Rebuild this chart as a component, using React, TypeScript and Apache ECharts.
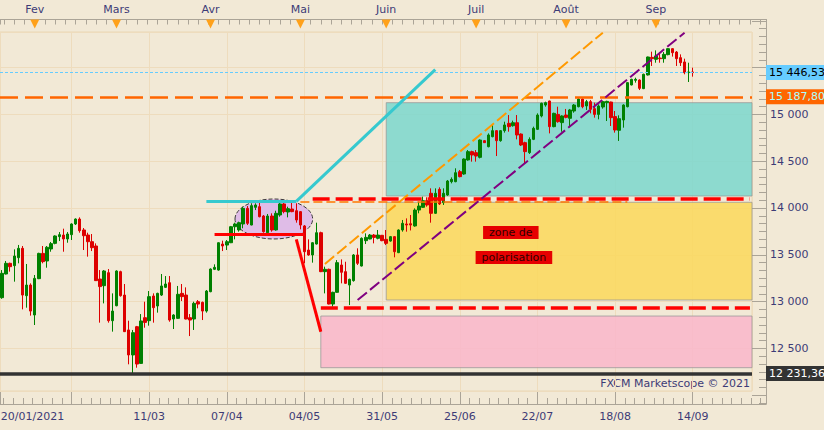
import React, { useEffect, useRef } from 'react';
import * as echarts from 'echarts';

// ---------- categories (trading days 2021) ----------
const dates = [
  '20/01','21/01','22/01','25/01','26/01','27/01','28/01','29/01',
  '01/02','02/02','03/02','04/02','05/02','08/02','09/02','10/02','11/02','12/02',
  '15/02','16/02','17/02','18/02','19/02','22/02','23/02','24/02','25/02','26/02',
  '01/03','02/03','03/03','04/03','05/03','08/03','09/03','10/03','11/03','12/03',
  '15/03','16/03','17/03','18/03','19/03','22/03','23/03','24/03','25/03','26/03','29/03','30/03','31/03',
  '01/04','02/04','05/04','06/04','07/04','08/04','09/04','12/04','13/04','14/04','15/04','16/04',
  '19/04','20/04','21/04','22/04','23/04','26/04','27/04','28/04','29/04','30/04',
  '03/05','04/05','05/05','06/05','07/05','10/05','11/05','12/05','13/05','14/05',
  '17/05','18/05','19/05','20/05','21/05','24/05','25/05','26/05','27/05','28/05','31/05',
  '01/06','02/06','03/06','04/06','07/06','08/06','09/06','10/06','11/06','14/06','15/06','16/06','17/06','18/06',
  '21/06','22/06','23/06','24/06','25/06','28/06','29/06','30/06',
  '01/07','02/07','05/07','06/07','07/07','08/07','09/07','12/07','13/07','14/07','15/07','16/07',
  '19/07','20/07','21/07','22/07','23/07','26/07','27/07','28/07','29/07','30/07',
  '02/08','03/08','04/08','05/08','06/08','09/08','10/08','11/08','12/08','13/08',
  '16/08','17/08','18/08','19/08','20/08','23/08','24/08','25/08','26/08','27/08','30/08','31/08',
  '01/09','02/09','03/09','06/09','07/09','08/09','09/09','10/09','13/09','14/09','15/09','16/09','17/09',
  '20/09','21/09','22/09','23/09','24/09','27/09','28/09','29/09','30/09','01/10','04/10',
];

// ---------- OHLC ----------
const opens = [
  13042,13295,13409,13384,13469,13569,13063,13177,12857,13245,
  13515,13434,13562,13622,13694,13711,13669,13715,13829,13882,
  13765,13711,13640,13594,13241,13170,13309,12796,12956,13320,
  13070,12697,12430,12732,12340,12828,12796,13060,12953,13070,
  13152,13202,12814,12821,13088,13070,12828,12814,12999,12992,
  12899,13106,13345,13337,13615,13604,13629,13800,13765,13829,
  13996,13818,14007,14014,13914,13736,13914,13765,13925,14043,
  13957,13989,13971,13961,13808,13551,13498,13615,13736,13320,
  13345,12974,13099,13391,13320,13177,13224,13498,13380,13651,
  13669,13711,13676,13708,13665,13647,13694,13523,13765,13829,
  13832,13808,13978,14007,14078,14157,13943,14199,14057,14139,
  14281,14281,14388,14363,14513,14602,14591,14541,14719,14655,
  14762,14826,14719,14826,14904,14879,14911,14790,14698,14591,
  14733,14840,14983,15100,15143,14869,15000,14912,14993,14958,
  15036,15082,15164,15090,15136,15061,15000,15079,15125,15132,
  14976,14830,14940,15082,15314,15364,15367,15275,15421,15609,
  15588,15602,15595,15638,15702,15666,15606,15560,15446,15453,
];
const closes = [
  13302,13409,13373,13487,13569,13070,13177,12899,13248,13515,
  13427,13580,13619,13701,13715,13669,13722,13829,13882,13758,
  13704,13640,13576,13224,13160,13327,12796,12899,13327,13063,
  12679,12430,12668,12333,12793,12778,13053,12935,13088,13167,
  13188,12803,12857,13078,13053,12814,12803,12981,12974,12899,
  13113,13348,13366,13629,13594,13640,13800,13829,13843,13996,
  13836,14025,14032,13907,13747,13914,13765,13943,14043,13961,
  13993,13961,13872,13818,13533,13498,13629,13736,13320,13345,
  12974,13099,13416,13313,13195,13238,13498,13409,13676,13686,
  13711,13686,13711,13651,13622,13694,13533,13765,13836,13818,
  13818,13978,14021,14078,14032,13943,14157,14043,14157,14288,
  14306,14377,14335,14523,14602,14566,14555,14726,14698,14780,
  14826,14719,14826,14887,14869,14911,14780,14673,14602,14733,
  14851,14993,15118,15125,14869,15011,14922,14983,14968,15047,
  15100,15164,15082,15136,15054,15000,15089,15136,15139,14965,
  14833,14954,15100,15339,15374,15374,15278,15428,15613,15595,
  15624,15595,15641,15702,15659,15595,15552,15446,15453,15446.53,
];
const lows = [
  13030,13290,13320,13213,13409,12917,12935,12850,12750,13240,
  13409,13362,13533,13612,13647,13533,13629,13658,13818,13736,
  13551,13480,13540,13220,12775,12981,12775,12679,12950,13053,
  12675,12330,12232,12294,12335,12721,12743,12775,12882,13060,
  13145,12785,12707,12815,13006,12810,12632,12697,12928,12803,
  12882,13100,13337,13330,13540,13551,13625,13665,13747,13783,
  13818,13815,13978,13900,13736,13730,13747,13758,13907,13943,
  13900,13955,13843,13772,13409,13490,13416,13610,13315,13088,
  12970,12946,13095,13195,13188,12963,13213,13391,13375,13615,
  13665,13622,13665,13645,13604,13640,13473,13518,13747,13747,
  13760,13800,13943,14000,14014,13843,13936,14032,14032,14130,
  14263,14275,14327,14355,14505,14495,14495,14530,14695,14648,
  14755,14555,14708,14805,14815,14869,14733,14662,14470,14577,
  14725,14833,14968,15082,14797,14862,14911,14815,14958,14869,
  15018,15075,15065,15047,15011,14965,14947,15061,14929,14876,
  14805,14716,14858,15075,15310,15339,15260,15270,15415,15517,
  15552,15552,15552,15631,15617,15517,15517,15428,15346,15403,
];
const highs = [
  13337,13434,13416,13558,13605,13594,13402,13195,13284,13522,
  13594,13594,13637,13708,13743,13779,13743,13836,13889,13900,
  13786,13736,13722,13622,13337,13337,13348,13088,13334,13330,
  13188,12796,12697,12740,12867,12999,13113,13088,13095,13295,
  13273,13273,12865,13167,13188,13152,12867,12999,13017,13000,
  13124,13355,13398,13633,13651,13658,13808,13843,13854,14014,
  14021,14050,14050,14057,13925,13936,13943,13971,14068,14057,
  14014,14068,14050,13968,13818,13665,13636,13843,13747,13373,
  13352,13106,13444,13451,13426,13245,13508,13569,13686,13729,
  13722,13722,13765,13712,13765,13701,13700,13772,13872,13889,
  13925,13996,14068,14121,14114,14210,14210,14221,14210,14299,
  14327,14424,14406,14530,14619,14612,14619,14733,14726,14797,
  14887,14833,14833,14922,14993,14933,14993,14797,14708,14755,
  14869,15011,15125,15136,15146,15018,15082,14990,15058,15058,
  15111,15171,15171,15154,15154,15125,15107,15143,15146,15136,
  15036,14990,15107,15346,15381,15392,15374,15435,15617,15670,
  15684,15666,15666,15706,15706,15677,15641,15595,15552,15499,
];

// ---------- axis labels ----------
const bottomLabelDates = ['20/01','11/03','07/04','04/05','31/05','25/06','22/07','18/08','14/09'];
const bottomTickFirst = '12/02';
const bottomTickStep = 19;
const monthStartDates = ['01/02','01/03','01/04','03/05','01/06','01/07','02/08','01/09'];
const monthNames = ['Fev','Mars','Avr','Mai','Juin','Juil','Août','Sep'];
const yLabelValues = [12500, 13000, 13500, 14000, 14500, 15000];
const yearLabel = '2021';

// ---------- price levels ----------
const lastPrice = 15446.53;
const resistanceLevel = 15187.80;
const lowLevel = 12231.36;

// ---------- zones [startDate, top, bottom] ----------
const zoneTeal: [string, number, number] = ['01/06', 15125, 14128];
const zoneYellow: [string, number, number] = ['01/06', 14061, 13017];
const zonePink: [string, number, number] = ['10/05', 12846, 12294];

// ---------- drawn lines [[date, value], [date, value]] ----------
const cyanFlat = [['31/03', 14071], ['30/04', 14071]];
const cyanRise = [['30/04', 14071], ['17/06', 15479]];
const redFlat = [['02/04', 13722], ['04/05', 13722]];
const redDrop = [['30/04', 13665], ['10/05', 12678]];
const orangeTrend = [['11/05', 13402], ['13/08', 15873]];
const purpleTrend = [['21/05', 13017], ['10/09', 15873]];
const orangeFlat = [['03/05', 14069], ['23/08', 14069]];
const redDashHigh = [['06/05', 14101], ['04/10', 14101]];
const redDashLow = [['10/05', 12935], ['04/10', 12935]];
const ellipseBox = [['09/04', 14096], ['06/05', 13669]];
const zoneText1: [string, number, string] = ['13/07', 13738, 'zone de'];
const zoneText2: [string, number, string] = ['14/07', 13471, 'polarisation'];

// ---------- styles / layout ----------
const BG = '#F2E9D6';
const GRIDC = '#EEDCBD';
const GRAY = '#ABA497';
const TXT = '#3D3B76';
const FONT = 'DejaVu Sans';
const GREEN = '#008000';
const RED = '#DD0000';

const PLOT_W = 752, PLOT_TOP = 32, PLOT_H = 359;
const AX_TOP = 19.5, AX_BOTTOM = 404, AX_RIGHT = 766;
const Y_MIN = 12045, Y_MAX = 15880;

const fmtInt = (v: number) => String(Math.round(v)).replace(/\B(?=(\d{3})+(?!\d))/g, ' ');
const fmtPrice = (v: number) => {
  const [i, d] = v.toFixed(2).split('.');
  return fmtInt(Number(i)) + ',' + d;
};
const idx = (d: string) => dates.indexOf(d);

export default function App() {
  const ref = useRef<HTMLDivElement>(null);
  useEffect(() => {
    document.body.style.margin = '0';
    const chart = echarts.init(ref.current as HTMLDivElement, undefined, { renderer: 'svg' });

    const cw = PLOT_W / dates.length;
    const valPerPx = (Y_MAX - Y_MIN) / PLOT_H;
    const t0 = idx(bottomTickFirst);
    const m0 = idx(monthStartDates[0]);
    const toU = (px: number) => ((px / cw - 0.5) - t0) * 10 / bottomTickStep;
    const toT = (px: number) => (px / cw - 0.5) - m0;
    const yBmin = Y_MIN - (AX_BOTTOM - (PLOT_TOP + PLOT_H)) * valPerPx;
    const yBmax = Y_MAX + (PLOT_TOP - AX_TOP) * valPerPx;

    const candleData = opens.map((o, i) => [
      o, closes[i], Math.min(lows[i], o, closes[i]), Math.max(highs[i], o, closes[i]),
    ]);

    const labelSet = new Set(bottomLabelDates);
    const monthSet = new Map(monthStartDates.map((d, k) => [d, monthNames[k]]));

    const seg = (pts: any[], lineStyle: any) => [
      { coord: pts[0], lineStyle }, { coord: pts[1] },
    ];
    const zone = (z: [string, number, number], color: string) => [
      { xAxis: z[0], yAxis: z[1], itemStyle: { color, borderColor: 'rgba(150,150,150,0.75)', borderWidth: 1 } },
      { yAxis: z[2] },
    ];
    const tag = (v: number, bg: string, fg: string, ls: any) => ({
      yAxis: v,
      lineStyle: ls,
      label: {
        show: true, position: 'end', distance: 14, formatter: fmtPrice(v),
        backgroundColor: bg, color: fg, padding: [2, 4, 1, 3], fontSize: 11, fontFamily: FONT, lineHeight: 12,
      },
    });
    const textBox = (t: [string, number, string], dx: number) => ({
      coord: [t[0], t[1]], symbol: 'rect', symbolSize: 1, itemStyle: { color: 'rgba(0,0,0,0)' },
      label: {
        show: true, position: 'inside', formatter: t[2], offset: [dx, 0],
        backgroundColor: '#E60000', color: '#2E0000', padding: [1, 6, 1, 6], fontSize: 11, lineHeight: 11, fontFamily: FONT,
      },
    });

    const hiddenAxis = { show: false };
    const option: any = {
      animation: false,
      backgroundColor: BG,
      textStyle: { fontFamily: FONT },
      grid: [
        { left: 0, top: PLOT_TOP, width: PLOT_W, height: PLOT_H, show: true, borderColor: '#EAD6B4', borderWidth: 1, containLabel: false, outerBoundsMode: 'none' },
        { left: 0, top: AX_TOP, width: AX_RIGHT, height: AX_BOTTOM - AX_TOP, show: false, containLabel: false, outerBoundsMode: 'none' },
        { left: 0, top: PLOT_TOP, width: PLOT_W, height: PLOT_H, show: false, containLabel: false, outerBoundsMode: 'none' },
      ],
      xAxis: [
        {
          type: 'category', gridIndex: 0, data: dates, position: 'bottom', offset: AX_BOTTOM - (PLOT_TOP + PLOT_H),
          boundaryGap: true, axisLine: { show: false }, axisTick: { show: false }, splitLine: { show: false },
          axisLabel: {
            interval: (i: number, v: string) => labelSet.has(v),
            formatter: (v: string, i: number) => (i === 0 ? '{first|' + v + '/' + yearLabel + '}' : v),
            rich: { first: { padding: [0, 0, 0, 61], fontSize: 11, fontFamily: FONT, color: TXT } },
            color: TXT, fontSize: 11, fontFamily: FONT, margin: 7,
          },
        },
        {
          type: 'category', gridIndex: 0, data: dates, position: 'top', offset: PLOT_TOP - AX_TOP,
          boundaryGap: true, axisLine: { show: false }, axisTick: { show: false }, splitLine: { show: false },
          axisLabel: {
            interval: (i: number, v: string) => monthSet.has(v),
            formatter: (v: string) => monthSet.get(v) || '',
            color: TXT, fontSize: 11, fontFamily: FONT, margin: 5,
          },
        },
        {
          type: 'value', gridIndex: 1, position: 'bottom', min: toU(0), max: toU(AX_RIGHT),
          minInterval: 10, maxInterval: 10,
          axisLine: { show: true, onZero: false, lineStyle: { color: GRAY, width: 1 } },
          axisTick: { show: true, inside: true, length: 12, lineStyle: { color: GRAY } },
          minorTick: { show: true, splitNumber: 8, length: 6, lineStyle: { color: GRAY } },
          axisLabel: { show: false }, splitLine: { show: false },
        },
        {
          type: 'value', gridIndex: 1, position: 'top', min: toT(0), max: toT(AX_RIGHT),
          minInterval: 5, maxInterval: 5,
          axisLine: { show: true, onZero: false, lineStyle: { color: GRAY, width: 1 } },
          axisTick: { show: true, inside: true, length: 5, lineStyle: { color: GRAY } },
          minorTick: { show: true, splitNumber: 2, length: 5, lineStyle: { color: GRAY } },
          axisLabel: { show: false }, splitLine: { show: false },
        },
        {
          type: 'value', gridIndex: 2, min: toU(0), max: toU(PLOT_W), minInterval: 10, maxInterval: 10,
          axisLine: { show: false, onZero: false }, axisTick: { show: false }, axisLabel: { show: false },
          splitLine: { show: true, lineStyle: { color: GRIDC, width: 1 } },
        },
      ],
      yAxis: [
        {
          type: 'value', gridIndex: 0, position: 'right', min: Y_MIN, max: Y_MAX, minInterval: 500, maxInterval: 500,
          axisLine: { show: false, onZero: false }, axisTick: { show: false }, axisLabel: { show: false },
          splitLine: { show: true, lineStyle: { color: GRIDC, width: 1 } },
        },
        {
          type: 'value', gridIndex: 1, position: 'right', min: yBmin, max: yBmax, minInterval: 500, maxInterval: 500,
          axisLine: { show: true, onZero: false, lineStyle: { color: GRAY, width: 1 } },
          axisTick: { show: true, inside: true, length: 14, lineStyle: { color: GRAY } },
          minorTick: { show: true, splitNumber: 6, length: 7, lineStyle: { color: GRAY } },
          axisLabel: {
            formatter: (v: number) => (yLabelValues.includes(Math.round(v)) && Math.abs(v - Math.round(v)) < 1e-6 ? fmtInt(v) : ''),
            color: TXT, fontSize: 11, fontFamily: FONT, margin: 4,
          },
          splitLine: { show: false },
        },
        { type: 'value', gridIndex: 2, min: 0, max: 1, ...hiddenAxis },
      ],
      graphic: [
        {
          type: 'text', right: 74, top: 378, silent: true,
          style: { text: 'FXCM Marketscope © 2021', font: '11px "DejaVu Sans"', fill: TXT },
        },
      ],
      series: [
        {
          type: 'custom', xAxisIndex: 0, yAxisIndex: 0, z: 1, clip: false, silent: true,
          data: [[idx(ellipseBox[0][0] as string), ellipseBox[0][1], idx(ellipseBox[1][0] as string), ellipseBox[1][1]]],
          encode: { x: 0, y: 1 },
          renderItem: (params: any, api: any) => {
            const p1 = api.coord([api.value(0), api.value(1)]);
            const p2 = api.coord([api.value(2), api.value(3)]);
            return {
              type: 'ellipse',
              shape: {
                cx: (p1[0] + p2[0]) / 2, cy: (p1[1] + p2[1]) / 2,
                rx: Math.abs(p2[0] - p1[0]) / 2, ry: Math.abs(p2[1] - p1[1]) / 2,
              },
              style: { fill: '#DFBCE7', stroke: '#3A3A3A', lineWidth: 1, lineDash: [4, 2] },
            };
          },
        },
        {
          type: 'candlestick', xAxisIndex: 0, yAxisIndex: 0, z: 3, clip: false, barWidth: 3,
          data: candleData,
          itemStyle: { color: GREEN, color0: RED, borderColor: GREEN, borderColor0: RED, borderWidth: 1 },
          markArea: {
            silent: true,
            data: [
              zone(zoneTeal, 'rgba(126,215,206,0.88)'),
              zone(zoneYellow, 'rgba(250,216,95,0.88)'),
              zone(zonePink, 'rgba(249,183,203,0.88)'),
            ],
          },
          markLine: {
            silent: true, symbol: ['none', 'none'], label: { show: false }, animation: false,
            data: [
              tag(lastPrice, '#66CCFF', '#000000', { color: '#66CCFF', width: 1, type: [3, 2] }),
              tag(resistanceLevel, '#FF6600', '#A8FFFF', { color: '#FF6600', width: 2.5, type: [18, 7] }),
              tag(lowLevel, '#333333', '#FFFFFF', { color: '#333333', width: 3.5, type: 'solid' }),
              seg(orangeFlat, { color: '#FF7700', width: 1.5, type: [9, 4] }),
              seg(redDashHigh, { color: '#FF0000', width: 3.5, type: [17, 6] }),
              seg(redDashLow, { color: '#FF0000', width: 3.5, type: [17, 6] }),
              seg(orangeTrend, { color: '#FF9900', width: 2, type: [12, 4] }),
              seg(purpleTrend, { color: '#800080', width: 2, type: [12, 4] }),
              seg(cyanFlat, { color: '#36C9CF', width: 3, type: 'solid' }),
              seg(cyanRise, { color: '#36C9CF', width: 3, type: 'solid' }),
              seg(redFlat, { color: '#FF0000', width: 3, type: 'solid' }),
              seg(redDrop, { color: '#FF0000', width: 3, type: 'solid' }),
            ],
          },
          markPoint: {
            silent: true, animation: false,
            data: [
              ...monthStartDates.map((d) => ({
                coord: [d, Y_MAX], symbol: 'triangle', symbolRotate: 180, symbolSize: [9, 9], symbolOffset: [0, -8],
                itemStyle: { color: '#FFA11A' }, label: { show: false },
              })),
              textBox(zoneText1, 2),
              textBox(zoneText2, 1),
            ],
          },
        },
      ],
    };
    chart.setOption(option);
    return () => chart.dispose();
  }, []);
  return <div ref={ref} style={{ position: 'absolute', left: 0, top: 0, width: 824, height: 430, background: BG }} />;
}
